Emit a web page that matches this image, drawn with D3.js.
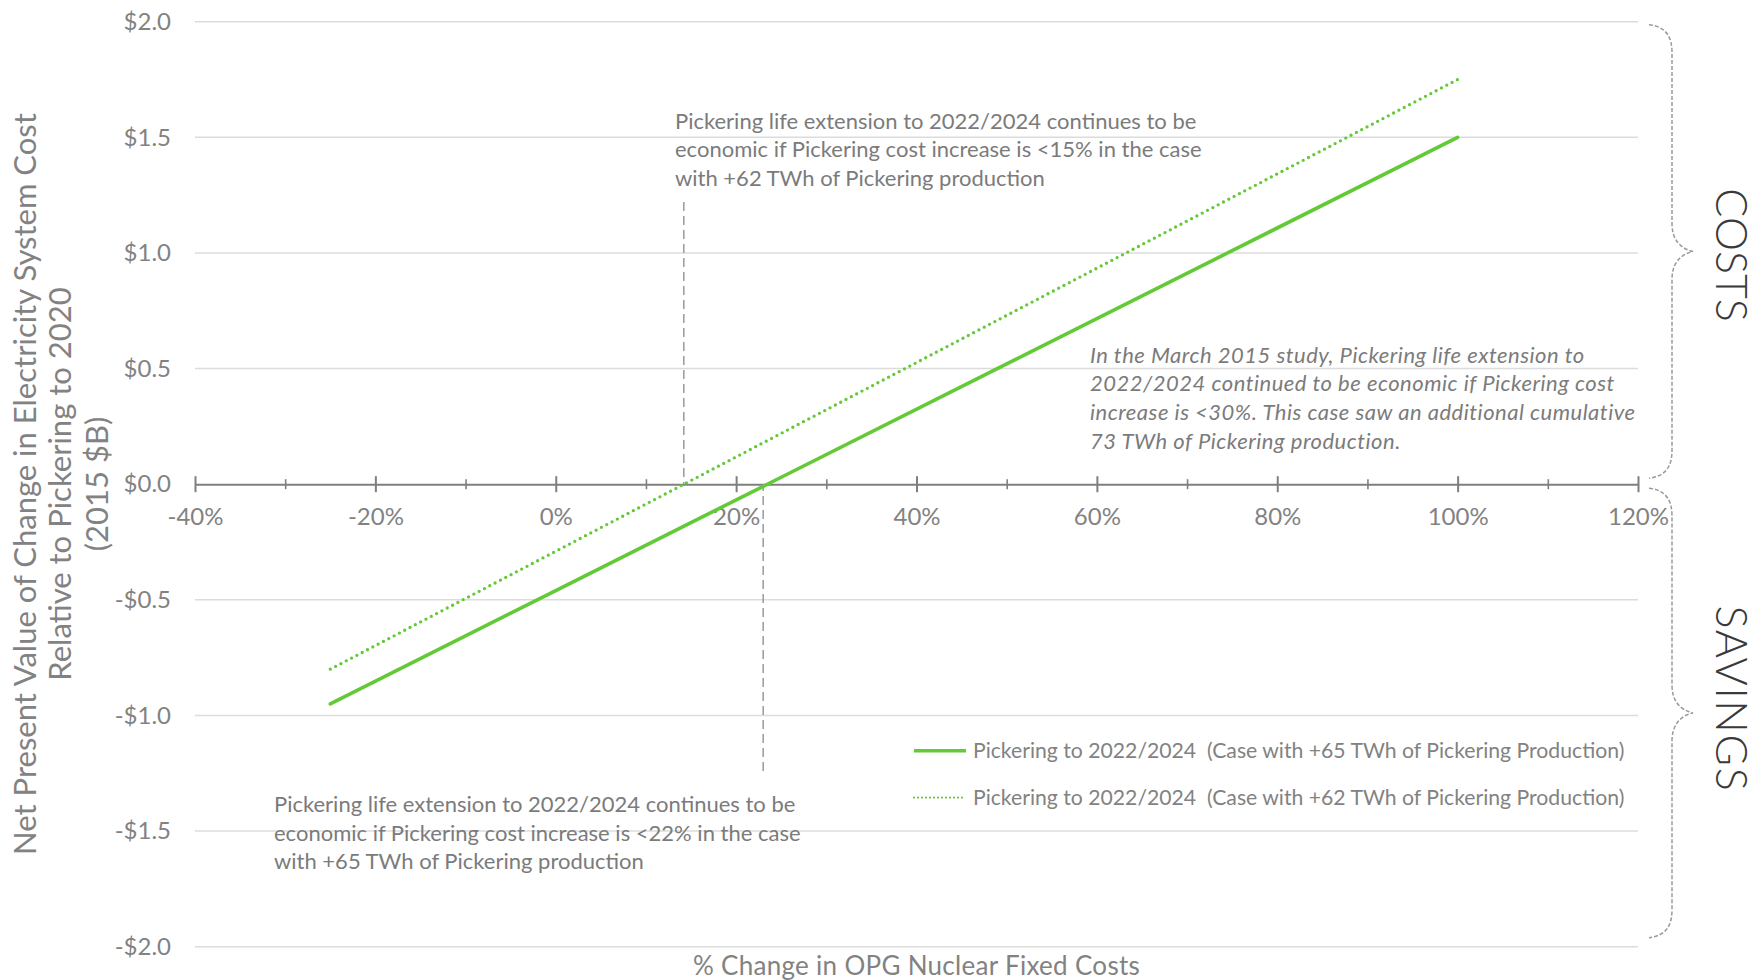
<!DOCTYPE html>
<html>
<head>
<meta charset="utf-8">
<script src="https://cdn.jsdelivr.net/npm/d3@7"></script>
<style>
  html, body { margin: 0; padding: 0; background: #ffffff; }
  svg { display: block; }
  text { font-family: Lato, "Noto Sans", sans-serif; }
</style>
</head>
<body>
<svg id="chart" width="1758" height="980"></svg>
<script>
// % change in OPG nuclear fixed costs
const costChange = [-25, 0, 25, 50, 75, 100];
// NPV of change in electricity system cost (2015 $B)
const npv65 = [-0.95, -0.46, 0.03, 0.52, 1.01, 1.50];
const npv62 = [-0.80, -0.29, 0.22, 0.73, 1.24, 1.75];

const seriesNames = [
  "Pickering to 2022/2024  (Case with +65 TWh of Pickering Production)",
  "Pickering to 2022/2024  (Case with +62 TWh of Pickering Production)"
];

const xTicks = [-40, -20, 0, 20, 40, 60, 80, 100, 120];
const xMinorTicks = [-30, -10, 10, 30, 50, 70, 90, 110];
const yTicks = [2, 1.5, 1, 0.5, 0, -0.5, -1, -1.5, -2];

// break-even guide lines: where each case crosses $0
const breakEvenPct = [14.2, 23.0];
const breakEvenReach = [1.22, -1.24];

const yTitleLines = [
  "Net Present Value of Change in Electricity System Cost",
  "Relative to Pickering to 2020",
  "(2015 $B)"
];
const xTitle = "% Change in OPG Nuclear Fixed Costs";

const noteTop = [
  "Pickering life extension to 2022/2024 continues to be",
  "economic if Pickering cost increase is <15% in the case",
  "with +62 TWh of Pickering production"
];
const noteBottom = [
  "Pickering life extension to 2022/2024 continues to be",
  "economic if Pickering cost increase is <22% in the case",
  "with +65 TWh of Pickering production"
];
const noteMarch = [
  "In the March 2015 study, Pickering life extension to",
  "2022/2024 continued to be economic if Pickering cost",
  "increase is <30%. This case saw an additional cumulative",
  "73 TWh of Pickering production."
];
const sideLabels = ["COSTS", "SAVINGS"];

const GREEN = "#63c936";
const GREY_TEXT = "#828282";
const GRID = "#dcdcdc";
const AXIS = "#7f7f7f";

const svg = d3.select("#chart");

const x = d3.scaleLinear().domain([-40, 120]).range([195, 1638]);
const y = d3.scaleLinear().domain([-2, 2]).range([946.7, 21.7]);

// horizontal gridlines
svg.append("g")
  .selectAll("line")
  .data(yTicks.filter(d => d !== 0))
  .join("line")
  .attr("x1", x(-40)).attr("x2", x(120))
  .attr("y1", d => y(d)).attr("y2", d => y(d))
  .attr("stroke", GRID).attr("stroke-width", 1.5);

// y tick labels
const fmtDollar = d => (d < 0 ? "-$" : "$") + Math.abs(d).toFixed(1);
const yAxis = svg.append("g")
  .attr("transform", `translate(${x(-40)},0)`)
  .call(d3.axisLeft(y).tickValues(yTicks).tickSize(0).tickPadding(24).tickFormat(fmtDollar));
yAxis.select(".domain").remove();
yAxis.selectAll("text")
  .attr("fill", GREY_TEXT)
  .style("font-size", "24px")
  .style("font-family", "Lato, sans-serif");

// x axis on the zero line
const xAxis = svg.append("g")
  .attr("transform", `translate(0,${y(0)})`)
  .call(d3.axisBottom(x).tickValues(xTicks).tickSize(7).tickSizeOuter(0).tickPadding(17)
        .tickFormat(d => d + "%"));
xAxis.select(".domain").attr("stroke", AXIS).attr("stroke-width", 2);
xAxis.selectAll(".tick line").attr("y1", -8).attr("y2", 8).attr("stroke", AXIS).attr("stroke-width", 2);
xAxis.selectAll("text")
  .attr("fill", GREY_TEXT)
  .style("font-size", "24px")
  .style("font-family", "Lato, sans-serif");

const xMinor = svg.append("g")
  .attr("transform", `translate(0,${y(0)})`)
  .call(d3.axisBottom(x).tickValues(xMinorTicks).tickSize(5).tickSizeOuter(0).tickFormat(""));
xMinor.select(".domain").remove();
xMinor.selectAll(".tick line").attr("y1", -5).attr("y2", 5).attr("stroke", AXIS).attr("stroke-width", 1.6);

// break-even guides
svg.append("g")
  .selectAll("line")
  .data(breakEvenPct)
  .join("line")
  .attr("x1", d => x(d)).attr("x2", d => x(d))
  .attr("y1", (d, i) => y(breakEvenReach[i]))
  .attr("y2", y(0))
  .attr("stroke", "#9a9a9a").attr("stroke-width", 1.5)
  .attr("stroke-dasharray", "9,5");

// series lines
const line = d3.line().x(d => x(d[0])).y(d => y(d[1]));
const pts65 = costChange.map((c, i) => [c, npv65[i]]);
const pts62 = costChange.map((c, i) => [c, npv62[i]]);

svg.append("path")
  .datum(pts62)
  .attr("d", line)
  .attr("fill", "none")
  .attr("stroke", GREEN).attr("stroke-width", 3.3)
  .attr("stroke-linecap", "round")
  .attr("stroke-dasharray", "0,6");

svg.append("path")
  .datum(pts65)
  .attr("d", line)
  .attr("fill", "none")
  .attr("stroke", GREEN).attr("stroke-width", 3.6)
  .attr("stroke-linecap", "round");

// y axis title
const yTitle = svg.append("g").attr("fill", GREY_TEXT);
const yTitleX = [25, 60, 97];
yTitle.selectAll("text")
  .data(yTitleLines)
  .join("text")
  .attr("transform", (d, i) => `translate(${yTitleX[i]},${484}) rotate(-90)`)
  .attr("text-anchor", "middle")
  .attr("dy", "0.36em")
  .style("font-size", "31px")
  .text(d => d);

// x axis title
svg.append("text")
  .attr("x", (x(-40) + x(120)) / 2)
  .attr("y", 975)
  .attr("text-anchor", "middle")
  .attr("fill", GREY_TEXT)
  .style("font-size", "26px")
  .style("letter-spacing", "0.3px")
  .text(xTitle);

// annotations
function note(lines, left, firstBaseline, italic) {
  const t = svg.append("text")
    .attr("fill", "#7b7b7b")
    .style("font-size", "22px")
    .style("letter-spacing", italic ? "0.5px" : "0px")
    .style("font-style", italic ? "italic" : "normal");
  t.selectAll("tspan")
    .data(lines)
    .join("tspan")
    .attr("x", left)
    .attr("y", (d, i) => firstBaseline + i * 28.8)
    .text(d => d);
}
note(noteTop, 675, 128.6, false);
note(noteBottom, 274, 811.7, false);
note(noteMarch, 1090, 362.5, true);

// legend
const legend = svg.append("g");
const legendRows = [750.8, 797.6];
legend.selectAll("line")
  .data(seriesNames)
  .join("line")
  .attr("x1", 914).attr("x2", 966)
  .attr("y1", (d, i) => legendRows[i]).attr("y2", (d, i) => legendRows[i])
  .attr("stroke", GREEN)
  .attr("stroke-width", (d, i) => i === 0 ? 3.4 : 2.2)
  .attr("stroke-linecap", (d, i) => i === 0 ? "butt" : "round")
  .attr("stroke-dasharray", (d, i) => i === 0 ? null : "0,4");
legend.selectAll("text")
  .data(seriesNames)
  .join("text")
  .attr("x", 973)
  .attr("y", (d, i) => legendRows[i])
  .attr("dy", "0.36em")
  .attr("fill", GREY_TEXT)
  .attr("xml:space", "preserve")
  .style("white-space", "pre")
  .style("font-size", "21.2px")
  .text(d => d);

// side braces
function bracePath(x0, xv, xt, y0, y1) {
  const ym = (y0 + y1) / 2;
  const r = 28;
  return `M${x0},${y0} C${x0 + 17},${y0 + 2} ${xv},${y0 + 12} ${xv},${y0 + r}` +
         ` L${xv},${ym - r}` +
         ` C${xv},${ym - 12} ${xv + 8},${ym - 3} ${xt},${ym}` +
         ` C${xv + 8},${ym + 3} ${xv},${ym + 12} ${xv},${ym + r}` +
         ` L${xv},${y1 - r}` +
         ` C${xv},${y1 - 12} ${x0 + 17},${y1 - 2} ${x0},${y1}`;
}
const braceSpans = [[y(2) + 3, y(0) - 6], [y(0) + 4, y(-2) - 9]];
svg.append("g")
  .selectAll("path")
  .data(braceSpans)
  .join("path")
  .attr("d", d => bracePath(1649, 1672, 1693, d[0], d[1]))
  .attr("fill", "none")
  .attr("stroke", "#9a9a9a")
  .attr("stroke-width", 1.5)
  .attr("stroke-dasharray", "4,2");

const sideCentres = [255, 699];
const sideSpacing = [0, 1.7];
svg.append("g")
  .selectAll("text")
  .data(sideLabels)
  .join("text")
  .attr("transform", (d, i) => `translate(1731,${sideCentres[i]}) rotate(90)`)
  .attr("text-anchor", "middle")
  .attr("dy", "0.36em")
  .attr("fill", "#3a3a3a")
  .style("font-size", "43px")
  .style("font-weight", "300")
  .style("letter-spacing", (d, i) => sideSpacing[i] + "px")
  .text(d => d);
</script>
</body>
</html>
